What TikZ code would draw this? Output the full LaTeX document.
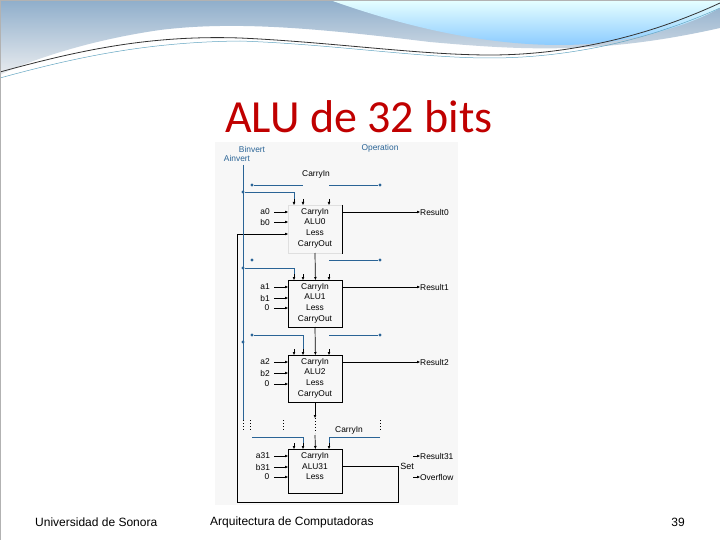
\documentclass[tikz,border=0pt]{standalone}
\usepackage{fontspec}
\setmainfont{Liberation Sans}
\newfontfamily\titlefont{Carlito}
\usetikzlibrary{arrows.meta}
\definecolor{teal1}{HTML}{2A6496}
\definecolor{title}{HTML}{C00000}
\definecolor{bandtop}{HTML}{8FAECB}
\definecolor{bandbot}{HTML}{E9ECEF}
\begin{document}
\begin{tikzpicture}[x=1pt,y=-1pt,
  t/.style={font=\fontsize{8.4}{9}\selectfont,inner sep=0pt},
  tl/.style={t,text=teal1},
  w/.style={line width=0.7pt},
  tw/.style={line width=0.9pt,teal1},
  ar/.style={-{Triangle[length=3pt,width=2.4pt]}},
  dot/.style={circle,fill=teal1,inner sep=0pt,minimum size=3.2pt},
  vd/.style={line width=1pt,dash pattern=on 1pt off 2pt},
  alu/.style={draw,line width=0.8pt,minimum width=54pt,anchor=north west,inner sep=0pt}]
\useasboundingbox (0,0) rectangle (720,540);
\fill[white] (0,0) rectangle (720,540);
% top decoration
\shade[top color=bandtop,bottom color=bandbot] (0,0) -- (720,0) -- (720,28) .. controls (600,55) and (520,50) .. (430,42) .. controls (330,30) and (240,20) .. (160,30) .. controls (90,40) and (30,60) .. (0,75) -- cycle;
\shade[top color=white!90!cyan,bottom color=cyan!55!blue!45] (330,0) .. controls (400,25) and (480,45) .. (560,45) .. controls (630,45) and (690,25) .. (720,8) -- (720,0) -- cycle;
\draw[line width=0.8pt,black!80] (0,72) .. controls (80,50) and (150,35) .. (240,38) .. controls (330,42) and (420,55) .. (490,55) .. controls (560,55) and (640,40) .. (720,3);
\draw[line width=0.5pt,cyan!50!gray] (0,78) .. controls (80,56) and (150,42) .. (240,41) .. controls (330,44) and (420,58) .. (490,58) .. controls (560,58) and (640,44) .. (720,8);
\draw[gray!60,line width=0.5pt] (0,0) rectangle (720,540);
% title
\node[text=title,font=\titlefont\fontsize{46}{48}\selectfont,inner sep=0pt,anchor=base] (title) at (359,133) {ALU de 32 bits};
% diagram background
\fill[gray!6] (215,142) rectangle (458,505);
% labels
\node[tl] (binv) at (252,149) {Binvert};
\node[tl] (ainv) at (237,158) {Ainvert};
\node[tl] (oper) at (380,148) {Operation};
\node[t] (cin0) at (316,174) {CarryIn};
% ALUs
\node[alu,minimum height=48pt,draw=gray!25] (alu0) at (288,205) {};
\node[alu,minimum height=47pt] (alu1) at (288,280) {};
\node[alu,minimum height=47pt] (alu2) at (288,355) {};
\node[alu,minimum height=44pt] (alu31) at (288,449) {};
\draw[line width=0.8pt] (alu0.north east) -- (alu0.south east);
\foreach \n/\y/\lab in {0/205/ALU0,1/280/ALU1,2/355/ALU2}{
  \node[t] (ci\n) at (315,\y+7) {CarryIn};
  \node[t] (nm\n) at (315,\y+17) {\lab};
  \node[t] (ls\n) at (315,\y+28) {Less};
  \node[t] (co\n) at (315,\y+39) {CarryOut};
}
\node[t] (ci31) at (315,456) {CarryIn};
\node[t] (nm31) at (315,467) {ALU31};
\node[t] (ls31) at (315,477) {Less};
% inputs
\node[t] (a0) at (265,212) {a0}; \node[t] (b0) at (265,222) {b0};
\node[t] (a1) at (265,287) {a1}; \node[t] (b1) at (265,298) {b1}; \node[t] (z1) at (267,308) {0};
\node[t] (a2) at (265,362) {a2}; \node[t] (b2) at (265,373) {b2}; \node[t] (z2) at (267,384) {0};
\node[t] (a31) at (263,456) {a31}; \node[t] (b31) at (263,467) {b31}; \node[t] (z31) at (267,477) {0};
\foreach \y in {212,222,287,298,308,362,373,384,456,467,477}{\draw[w,ar] (274,\y) -- (288,\y);}
% results
\node[t,anchor=west] (r0) at (420,212) {Result0};
\node[t,anchor=west] (r1) at (420,287) {Result1};
\node[t,anchor=west] (r2) at (420,362) {Result2};
\node[t,anchor=west] (r31) at (420,456) {Result31};
\node[t,anchor=west] (ov) at (420,477) {Overflow};
\node[t,font=\fontsize{9}{10}\selectfont] (set) at (407,466) {Set};
\draw[w,ar] (342,212) -- (r0.west);
\draw[w,ar] (342,287) -- (r1.west);
\draw[w,ar] (342,362) -- (r2.west);
\draw[w,ar] (413,456) -- (r31.west);
\draw[w,ar] (413,477) -- (ov.west);
% carry chain
\draw[w,ar] (315,253) -- (alu1.north);
\draw[w,ar] (315,327) -- (alu2.north);
\draw[w,ar] (315,402) -- (315,418);
\draw[w,ar] (315,435) -- (alu31.north);
% top arrows
\foreach \y in {205,280,355,449}{\foreach \x in {294,303,329}{\draw[w,ar] (\x,\y-6) -- (\x,\y);}}
% less feedback
\draw[w] (alu31.east |- 0,466) -- (398,466) -- (398,502) -- (237,502) -- (237,234);
\draw[w,ar] (237,234) -- (288,234);
% teal control lines
\draw[tw] (243,165) -- (243,420);
\node[dot] (d0) at (252,185) {}; \node[dot] (e0) at (380,185) {};
\draw[tw] (d0) -- (303,185); \draw[tw] (329,185) -- (e0);
\node[dot] (f0) at (243,192) {};
\draw[tw] (f0) -- (294,192) -- (294,199);
\node[dot] (d1) at (252,260) {}; \node[dot] (e1) at (380,260) {};
\draw[tw] (329,260) -- (e1);
\node[dot] (f1) at (243,268) {};
\draw[tw] (f1) -- (294,268) -- (294,274);
\node[dot] (d2) at (252,335) {}; \node[dot] (e2) at (380,335) {};
\draw[tw] (d2) -- (303,335) -- (303,349);
\draw[tw] (329,335) -- (e2);
\node[dot] (f2) at (243,342) {};
\draw[tw] (252,437) -- (303,437) -- (303,443);
\draw[tw] (380,437) -- (329,437) -- (329,443);
% ellipsis
\foreach \x in {237,243,250,283,380}{\draw[vd] (\x,420) -- (\x,431);}
\draw[vd] (315,418) -- (315,433);
\node[t] (cin31) at (349,430) {CarryIn};
% footer
\node[font=\fontsize{12}{13}\selectfont,anchor=west,inner sep=0pt] (f1t) at (35,522) {Universidad de Sonora};
\node[font=\fontsize{12}{13}\selectfont,anchor=west,inner sep=0pt] (f2t) at (210,522) {Arquitectura de Computadoras};
\node[font=\fontsize{12}{13}\selectfont,inner sep=0pt] (f3t) at (678,522) {39};
\end{tikzpicture}
\end{document}
